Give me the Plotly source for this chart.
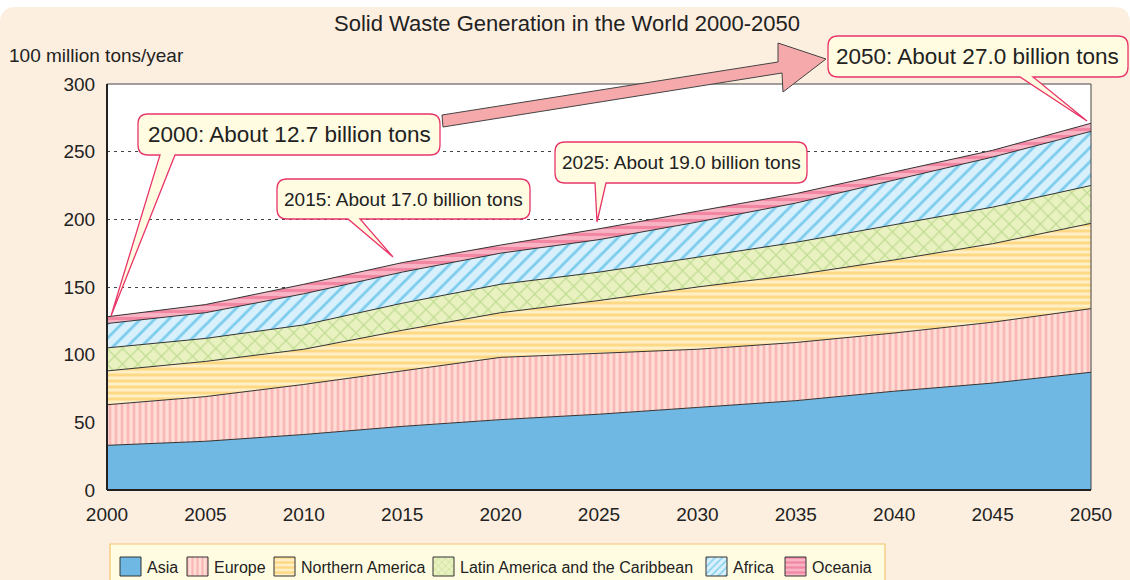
import plotly.graph_objects as go

years = [2000, 2005, 2010, 2015, 2020, 2025, 2030, 2035, 2040, 2045, 2050]
asia = [33, 36, 41, 47, 52, 56, 61, 66, 73, 79, 87]
europe = [30, 33, 37, 41, 46, 45, 43, 43, 43, 45, 47]
northern_america = [25, 26, 26, 30, 33, 39, 46, 50, 54, 58, 63]
latin_america = [17, 17, 18, 20, 21, 21, 22, 24, 26, 27, 28]
africa = [18, 19, 23, 23, 23, 24, 26, 29, 33, 37, 40]
oceania = [5, 6, 7, 7, 6, 8, 8, 7, 6, 5, 6]

regions = ["Asia", "Europe", "Northern America", "Latin America and the Caribbean", "Africa", "Oceania"]
series = [asia, europe, northern_america, latin_america, africa, oceania]
# bg colour, pattern shape, pattern colour, size, solidity
styles = [
    ("#70B8E4", "", "#70B8E4", 8, 0.3),
    ("#FDDDD6", "|", "#F59396", 6, 0.45),
    ("#FFEFC6", "-", "#FDC444", 6, 0.5),
    ("#EAF1C0", "x", "#94CA66", 11, 0.22),
    ("#D8F0FB", "/", "#1FA8E0", 10, 0.28),
    ("#F8B4C4", "-", "#E95A82", 7, 0.45),
]

FONT = "Liberation Sans, Arial, sans-serif"
W, H = 1130, 580
L, R, T, B = 107, 1091, 84, 490


def px(x):
    return x / W


def py(y):
    return 1 - y / H


def pt(x, y):
    return f"{px(x):.5f},{py(y):.5f}"


def path(points):
    return "M " + " L ".join(pt(x, y) for x, y in points) + " Z"


def callout(x0, y0, x1, y1, p0, p1, tip, r=10):
    return (f"M {pt(x0 + r, y0)} L {pt(x1 - r, y0)} Q {pt(x1, y0)} {pt(x1, y0 + r)} "
            f"L {pt(x1, y1 - r)} Q {pt(x1, y1)} {pt(x1 - r, y1)} L {pt(p1, y1)} "
            f"L {pt(*tip)} L {pt(p0, y1)} L {pt(x0 + r, y1)} Q {pt(x0, y1)} {pt(x0, y1 - r)} "
            f"L {pt(x0, y0 + r)} Q {pt(x0, y0)} {pt(x0 + r, y0)} Z")


def rrect(x0, y0, x1, y1, r):
    return (f"M {pt(x0 + r, y0)} L {pt(x1 - r, y0)} Q {pt(x1, y0)} {pt(x1, y0 + r)} "
            f"L {pt(x1, y1 - r)} Q {pt(x1, y1)} {pt(x1 - r, y1)} L {pt(x0 + r, y1)} "
            f"Q {pt(x0, y1)} {pt(x0, y1 - r)} L {pt(x0, y0 + r)} Q {pt(x0, y0)} {pt(x0 + r, y0)} Z")


fig = go.Figure()

for name, vals, (bg, shape, fg, size, sol) in zip(regions, series, styles):
    fig.add_trace(go.Scatter(
        x=years, y=vals, name=name, stackgroup="one", mode="lines",
        line=dict(color="#333333", width=1),
        fillcolor=bg,
        fillpattern=dict(shape=shape, bgcolor=bg, fgcolor=fg, size=size, solidity=sol),
        showlegend=False, hoverinfo="skip",
    ))

# hand-made legend (pixel overlay axes)
legend_x = [120, 187, 274, 433, 706, 785]
annotations = []
for name, lx, (bg, shape, fg, size, sol) in zip(regions, legend_x, styles):
    fig.add_trace(go.Scatter(
        x=[lx, lx + 21, lx + 21, lx, lx], y=[557, 557, 576, 576, 557],
        xaxis="x2", yaxis="y2", mode="lines", fill="toself",
        line=dict(color="#333333", width=1), fillcolor=bg,
        fillpattern=dict(shape=shape, bgcolor=bg, fgcolor=fg, size=5, solidity=sol),
        showlegend=False, hoverinfo="skip",
    ))
    annotations.append(dict(x=px(lx + 25), y=py(567), xref="paper", yref="paper", text=name,
                            showarrow=False, xanchor="left", yanchor="middle",
                            font=dict(family=FONT, size=16, color="#222222")))

shapes = [
    # peach page
    dict(type="path", xref="paper", yref="paper", path=rrect(0, 7, W, H + 20, 16),
         fillcolor="#FDEFE0", line=dict(width=0), layer="below"),
    # white plot area
    dict(type="rect", xref="paper", yref="paper", x0=px(L), x1=px(R), y0=py(B), y1=py(T),
         fillcolor="white", line=dict(width=0), layer="below"),
    # legend box
    dict(type="rect", xref="paper", yref="paper", x0=px(110), x1=px(885), y0=py(583), y1=py(544),
         fillcolor="#FFFCE1", line=dict(color="#F3C36E", width=1.2), layer="below"),
    # frame
    dict(type="rect", xref="paper", yref="paper", x0=px(L), x1=px(R), y0=py(B), y1=py(T),
         line=dict(color="#444444", width=1), layer="above"),
    dict(type="line", xref="paper", yref="paper", x0=px(L), x1=px(L), y0=py(B), y1=py(T),
         line=dict(color="#222222", width=2), layer="above"),
    dict(type="line", xref="paper", yref="paper", x0=px(L), x1=px(R), y0=py(B), y1=py(B),
         line=dict(color="#222222", width=2), layer="above"),
    # growth arrow
    dict(type="path", xref="paper", yref="paper",
         path=path([(442, 115), (778, 62), (778, 43), (826, 59), (783, 92), (782, 73), (443, 127)]),
         fillcolor="#F5A9AB", line=dict(color="#444444", width=1)),
]

callouts = [
    ("2000: About 12.7 billion tons", (138, 114, 440, 155), (160, 175), (111, 316), 22.5),
    ("2015: About 17.0 billion tons", (277, 179, 530, 219), (348, 360), (393, 257), 19),
    ("2025: About 19.0 billion tons", (555, 142, 807, 183), (595, 606), (597, 222), 19),
    ("2050: About 27.0 billion tons", (828, 36, 1128, 77), (1020, 1033), (1087, 121), 22.5),
]

for text, (x0, y0, x1, y1), (p0, p1), tip, fs in callouts:
    shapes.append(dict(type="path", xref="paper", yref="paper",
                       path=callout(x0, y0, x1, y1, p0, p1, tip),
                       fillcolor="#FFFCE1", line=dict(color="#E8356A", width=1.3)))
    annotations.append(dict(x=px((x0 + x1) / 2), y=py((y0 + y1) / 2), xref="paper", yref="paper",
                            text=text, showarrow=False, xanchor="center", yanchor="middle",
                            font=dict(family=FONT, size=fs, color="#222222")))

annotations.append(dict(x=px(567), y=py(23), xref="paper", yref="paper",
                        text="Solid Waste Generation in the World 2000-2050", showarrow=False,
                        xanchor="center", yanchor="middle", font=dict(family=FONT, size=22, color="#222222")))
annotations.append(dict(x=px(7), y=py(55), xref="paper", yref="paper",
                        text="100 million tons/year", showarrow=False,
                        xanchor="left", yanchor="middle", font=dict(family=FONT, size=19, color="#222222")))

fig.update_layout(
    width=W, height=H,
    margin=dict(l=0, r=0, t=0, b=0, autoexpand=False),
    paper_bgcolor="white", plot_bgcolor="rgba(0,0,0,0)",
    font=dict(family=FONT, size=19, color="#222222"),
    shapes=shapes, annotations=annotations,
    showlegend=False,
    xaxis=dict(domain=[px(L), px(R)], range=[2000, 2050], tickvals=list(range(2000, 2051, 5)),
               showgrid=False, zeroline=False, showline=False,
               ticks="outside", ticklen=7, tickcolor="rgba(0,0,0,0)", tickfont=dict(size=19)),
    yaxis=dict(domain=[py(B), py(T)], range=[0, 300], tickvals=list(range(0, 301, 50)), showgrid=True,
               gridcolor="#444444", griddash="3px,4px", gridwidth=1,
               zeroline=False, showline=False,
               ticks="outside", ticklen=7, tickcolor="rgba(0,0,0,0)", tickfont=dict(size=19)),
    xaxis2=dict(domain=[0, 1], range=[0, W], visible=False, anchor="y2"),
    yaxis2=dict(domain=[0, 1], range=[H, 0], visible=False, anchor="x2"),
)

fig.write_html("out.html", config={"displayModeBar": False},
               post_script="document.body.style.margin='0';")
